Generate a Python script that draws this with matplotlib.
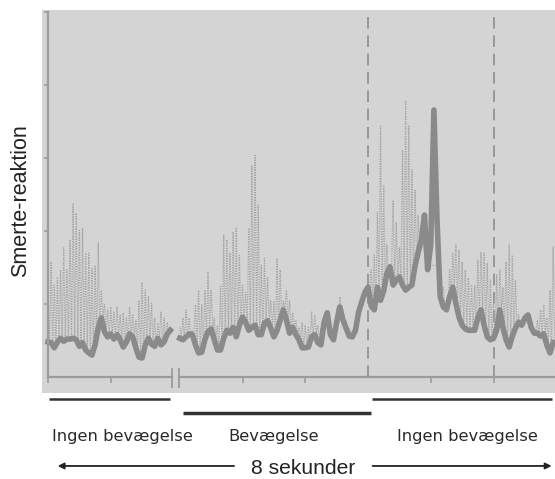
import numpy as np
import matplotlib.pyplot as plt

# tid i sekunder, smerte-reaktion i vilkaarlige enheder (0-5)
dt = 0.05
t_start_1 = 0.0    # foerste stykke (foer aksebruddet)
t_start_2 = 2.10   # andet stykke (efter aksebruddet)

# fuldt optrukken kurve (mørk)
solid_1 = [0.48, 0.47, 0.40, 0.48, 0.53, 0.49, 0.52, 0.52, 0.53, 0.51,
           0.42, 0.47, 0.37, 0.33, 0.30, 0.44, 0.67, 0.81, 0.62, 0.55,
           0.59, 0.52, 0.58, 0.51, 0.41, 0.48, 0.59, 0.55, 0.40, 0.27,
           0.26, 0.44, 0.53, 0.45, 0.42, 0.53, 0.44, 0.48, 0.59, 0.64]
# prikket kurve (lys) - toppen af svingningerne
dotted_1 = [1.19, 1.58, 1.26, 1.37, 1.47, 1.77, 1.47, 1.88, 2.38, 2.25,
            2.01, 2.04, 1.70, 1.70, 1.49, 1.53, 1.84, 1.19, 1.01, 0.92,
            0.96, 0.89, 0.96, 0.85, 0.88, 0.81, 0.96, 0.85, 0.78, 1.05,
            1.30, 1.19, 1.10, 1.01, 0.81, 0.74, 0.89, 0.81, 0.75, 0.68]

solid_2 = [0.53, 0.51, 0.55, 0.59, 0.58, 0.44, 0.33, 0.34, 0.51, 0.62,
           0.66, 0.51, 0.37, 0.37, 0.53, 0.64, 0.60, 0.68, 0.55, 0.71,
           0.82, 0.75, 0.64, 0.68, 0.71, 0.58, 0.58, 0.74, 0.77, 0.67,
           0.55, 0.64, 0.78, 0.92, 0.78, 0.60, 0.68, 0.58, 0.51, 0.40,
           0.40, 0.41, 0.55, 0.58, 0.47, 0.44, 0.75, 0.88, 0.58, 0.51,
           0.75, 0.96, 0.78, 0.67, 0.56, 0.55, 0.64, 0.89, 1.03, 1.16,
           1.23, 0.97, 0.92, 1.23, 1.05, 1.18, 1.42, 1.51, 1.26, 1.33,
           1.37, 1.26, 1.19, 1.23, 1.26, 1.53, 1.71, 1.88, 2.22, 1.47,
           1.81, 3.66, 2.15, 1.10, 0.96, 0.92, 1.10, 1.23, 1.01, 0.82,
           0.71, 0.66, 0.64, 0.64, 0.64, 0.81, 0.92, 0.71, 0.55, 0.51,
           0.53, 0.64, 0.92, 0.68, 0.51, 0.41, 0.56, 0.67, 0.75, 0.71,
           0.81, 0.85, 0.68, 0.60, 0.60, 0.56, 0.59, 0.44, 0.33, 0.47]
dotted_2 = [0.68, 0.81, 0.92, 0.81, 0.64, 0.99, 1.19, 0.99, 1.19, 1.44,
            1.19, 0.81, 0.71, 1.26, 1.95, 1.88, 1.70, 1.99, 2.05, 1.67,
            1.26, 1.16, 2.04, 2.90, 3.04, 2.36, 1.53, 1.64, 1.36, 1.05,
            1.03, 1.63, 1.47, 1.05, 1.19, 1.05, 0.88, 0.78, 0.68, 0.75,
            0.71, 0.68, 0.89, 0.85, 0.71, 0.68, 0.85, 0.92, 0.71, 0.60,
            0.92, 1.10, 0.92, 0.78, 0.67, 0.64, 0.75, 0.85, 0.99, 1.10,
            1.19, 1.47, 1.67, 2.25, 3.45, 2.63, 1.81, 1.53, 2.42, 2.12,
            1.77, 3.11, 3.79, 3.45, 2.84, 2.56, 2.22, 1.88, 1.70, 1.70,
            1.53, 1.53, 1.53, 1.51, 1.23, 0.99, 1.47, 1.70, 1.81, 1.74,
            1.58, 1.47, 1.36, 1.26, 1.26, 1.60, 1.71, 1.70, 1.56, 1.33,
            0.99, 1.40, 1.47, 1.23, 1.58, 1.81, 1.67, 1.33, 0.85, 0.71,
            0.75, 0.75, 0.68, 0.64, 0.78, 0.92, 0.99, 0.81, 1.19, 1.78]

y_ticks = [1, 2, 3, 4, 5]
x_ticks = [0, 1, 3.1, 4.1, 6.1, 7.1]
markers = [5.1, 7.1]          # stiplede lodrette linjer
x_break = [1.97, 2.09]

periods = [("Ingen bevægelse", 0.02, 1.95), ("Bevægelse", 2.15, 5.15),
           ("Ingen bevægelse", 5.16, 8.03)]
y_label = "Smerte-reaktion"
duration_label = "8 sekunder"


def zigzag(t, hi, lo):
    # svingning mellem top og bund for hver prøve
    hi = np.asarray(hi)
    lo = np.minimum(np.asarray(lo), hi)
    tt = np.empty(2 * len(t))
    yy = np.empty(2 * len(t))
    tt[0::2] = t
    tt[1::2] = t + dt / 2
    yy[0::2] = hi
    yy[1::2] = lo
    return tt, yy


fig = plt.figure(figsize=(5.55, 4.79), dpi=100)
ax = fig.add_axes([0.0757, 0.1795, 0.9243, 0.7996], facecolor='#d4d4d4')
ax.set_xlim(-0.0956, 8.08)
ax.set_ylim(-0.22, 5.03)
ax.set_xticks([])
ax.set_yticks([])
for s in ax.spines.values():
    s.set_visible(False)

axis_col = '#9c9c9c'
# stiplede markeringer
for m in markers:
    ax.plot([m, m], [0, 5.0], color='#8e8e8e', lw=1.2, ls=(0, (7, 4)))

for start, solid, dotted in [(t_start_1, solid_1, dotted_1),
                             (t_start_2, solid_2, dotted_2)]:
    t = start + dt * np.arange(len(solid))
    tz, yz = zigzag(t, dotted, solid)
    ax.plot(tz, yz, color='#a6a6a6', lw=0.9, ls=(0, (1, 1)))
    ax.plot(t, solid, color='#8a8a8a', lw=4)

# akser
ax.plot([0, 0], [0, 5.0], color=axis_col, lw=1.6)
ax.hlines(y_ticks, -0.07, 0, color=axis_col, lw=1.2)
ax.plot([0, x_break[0]], [0, 0], color=axis_col, lw=1.6)
ax.plot([x_break[1], 8.08], [0, 0], color=axis_col, lw=1.6)
ax.vlines(x_ticks, -0.08, 0, color=axis_col, lw=1.2)
ax.vlines(x_break, -0.15, 0.12, color=axis_col, lw=1.3)

ax.text(-0.43, 2.42, y_label, rotation=90, ha='center', va='center',
        fontsize=15.5, family='Liberation Sans', color='#222222',
        clip_on=False)

# perioder under grafen
for i, (name, a, b) in enumerate(periods):
    yb = -0.49 if name == "Bevægelse" else -0.30
    ax.plot([a, b], [yb, yb], color='#333333', lw=2.5 if yb < -0.4 else 1.8,
            clip_on=False, solid_capstyle='butt')
    cx = [1.18, 3.60, 6.69][i]
    ax.text(cx, -0.82, name, ha='center', va='center', fontsize=11.8,
            color='#2a2a2a', clip_on=False)

ax.text(4.06, -1.26, duration_label, ha='center', va='center', fontsize=15.2,
        family='Liberation Sans', color='#222222', clip_on=False)
ax.annotate('', xy=(0.11, -1.22), xytext=(3.01, -1.22),
            arrowprops=dict(arrowstyle='-|>', color='#222222', lw=1.3,
                            mutation_scale=9), annotation_clip=False)
ax.annotate('', xy=(8.07, -1.22), xytext=(5.13, -1.22),
            arrowprops=dict(arrowstyle='-|>', color='#222222', lw=1.3,
                            mutation_scale=9), annotation_clip=False)

fig.savefig('out.png', dpi=100, facecolor='white')
